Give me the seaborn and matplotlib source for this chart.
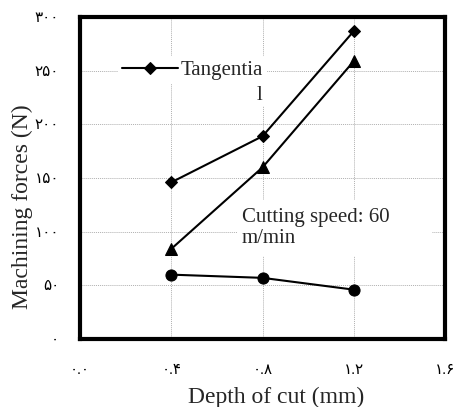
import matplotlib
matplotlib.use("Agg")
import matplotlib.pyplot as plt
from matplotlib.patches import Rectangle
import seaborn as sns
import pandas as pd

# Depth of cut (mm) and measured machining forces (N)
depth = [0.4, 0.8, 1.2]
tangential = [146, 189, 287]
feed = [84, 160, 259]
radial = [60, 57, 46]

x_ticks = [0.0, 0.4, 0.8, 1.2, 1.6]
x_tick_labels = ["۰.۰", "۰.۴", "۰.۸", "۱.۲", "۱.۶"]
y_ticks = [0, 50, 100, 150, 200, 250, 300]
y_tick_labels = ["۰", "۵۰", "۱۰۰", "۱۵۰", "۲۰۰", "۲۵۰", "۳۰۰"]

sns.set_theme(style="white")
plt.rcParams["font.family"] = ["Liberation Serif", "DejaVu Sans"]

fig = plt.figure(figsize=(4.57, 4.07), dpi=100)
ax = fig.add_axes([0.175, 0.167, 0.799, 0.791])

df = pd.DataFrame({"depth": depth, "tangential": tangential,
                   "feed": feed, "radial": radial})

sns.lineplot(data=df, x="depth", y="tangential", ax=ax, color="black",
             marker="D", markersize=6, linewidth=1.5, label="Tangentia",
             markeredgecolor="black", zorder=5)
sns.lineplot(data=df, x="depth", y="feed", ax=ax, color="black",
             marker="^", markersize=8, linewidth=1.5, legend=False,
             markeredgecolor="black", zorder=5)
sns.lineplot(data=df, x="depth", y="radial", ax=ax, color="black",
             marker="o", markersize=8, linewidth=1.5, legend=False,
             markeredgecolor="black", zorder=5)

ax.set_xlim(0, 1.6)
ax.set_ylim(0, 300)
ax.set_xticks(x_ticks)
ax.set_xticklabels(x_tick_labels, fontsize=11)
ax.set_yticks(y_ticks)
ax.set_yticklabels(y_tick_labels, fontsize=11)
ax.tick_params(axis="both", direction="out", length=3, width=0.6,
               color="#666666", colors="black")
ax.tick_params(axis="x", pad=15)
ax.tick_params(axis="y", pad=12)

ax.grid(True, color="#b0b0b0", linestyle=(0, (1, 1)), linewidth=0.7)
ax.set_axisbelow(True)
for s in ax.spines.values():
    s.set_visible(True)
    s.set_color("black")
    s.set_linewidth(3)

ax.set_xlabel("Depth of cut (mm)", fontsize=17)
ax.set_ylabel("Machining forces (N)", fontsize=17)
ax.xaxis.set_label_coords(0.537, -0.149)
ax.yaxis.set_label_coords(-0.129, 0.41)

leg = ax.legend(loc="center left", bbox_to_anchor=(0.104, 0.835),
                fontsize=15, frameon=True, handlelength=2.7,
                handletextpad=0.1, borderpad=0.2, borderaxespad=0)
leg.get_frame().set_edgecolor("none")
leg.get_frame().set_facecolor("white")
leg.get_frame().set_alpha(1)
leg.set_zorder(6)

# wrapped tail of the legend label
ax.text(0.80, 227, "l", fontsize=15, ha="right", va="center",
        bbox=dict(facecolor="white", edgecolor="none", pad=1), zorder=6)

# annotation text box
ax.add_patch(Rectangle((0.43, 0.258), 0.534, 0.174, transform=ax.transAxes,
                       facecolor="white", edgecolor="none", zorder=2))
ax.text(0.71, 122, "Cutting speed: 60\nm/min", fontsize=15, ha="left",
        va="top", linespacing=1.15, zorder=6)

fig.savefig("out.png", dpi=100)
